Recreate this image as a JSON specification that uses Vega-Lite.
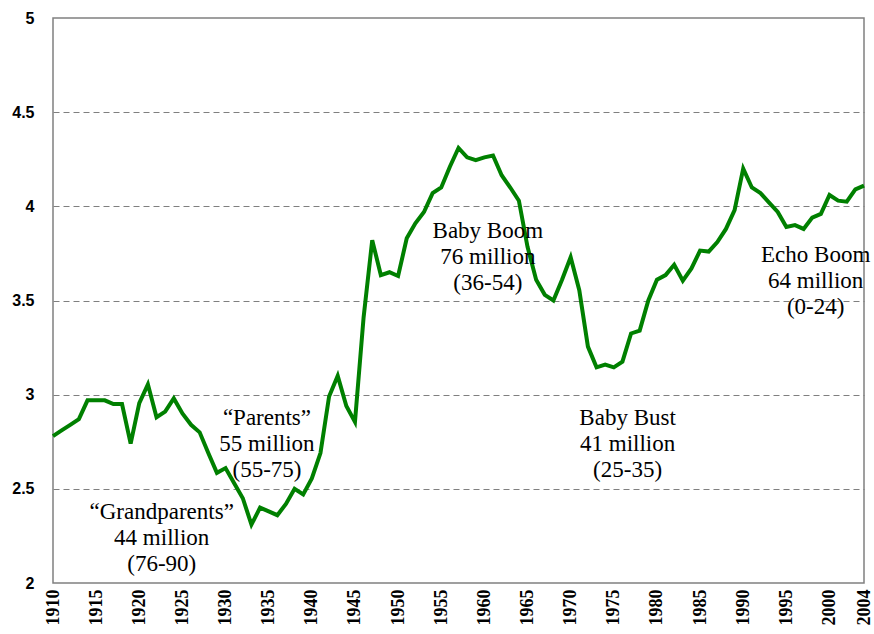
{
  "$schema": "https://vega.github.io/schema/vega-lite/v6.json",
  "width": 811,
  "height": 565,
  "autosize": "none",
  "padding": {"left": 53, "top": 18, "right": 10, "bottom": 51},
  "background": "white",
  "config": {
    "view": {"stroke": "#808080", "strokeWidth": 1.5}
  },
  "datasets": {
    "series": [
      {"year": 1910, "value": 2.78}, {"year": 1911, "value": 2.81}, {"year": 1912, "value": 2.84},
      {"year": 1913, "value": 2.87}, {"year": 1914, "value": 2.97}, {"year": 1915, "value": 2.97},
      {"year": 1916, "value": 2.97}, {"year": 1917, "value": 2.95}, {"year": 1918, "value": 2.95},
      {"year": 1919, "value": 2.74}, {"year": 1920, "value": 2.955}, {"year": 1921, "value": 3.055},
      {"year": 1922, "value": 2.88}, {"year": 1923, "value": 2.91}, {"year": 1924, "value": 2.98},
      {"year": 1925, "value": 2.9}, {"year": 1926, "value": 2.84}, {"year": 1927, "value": 2.8},
      {"year": 1928, "value": 2.69}, {"year": 1929, "value": 2.585}, {"year": 1930, "value": 2.61},
      {"year": 1931, "value": 2.53}, {"year": 1932, "value": 2.45}, {"year": 1933, "value": 2.31},
      {"year": 1934, "value": 2.4}, {"year": 1935, "value": 2.38}, {"year": 1936, "value": 2.36},
      {"year": 1937, "value": 2.42}, {"year": 1938, "value": 2.5}, {"year": 1939, "value": 2.47},
      {"year": 1940, "value": 2.555}, {"year": 1941, "value": 2.69}, {"year": 1942, "value": 2.99},
      {"year": 1943, "value": 3.1}, {"year": 1944, "value": 2.94}, {"year": 1945, "value": 2.855},
      {"year": 1946, "value": 3.41}, {"year": 1947, "value": 3.82}, {"year": 1948, "value": 3.635},
      {"year": 1949, "value": 3.65}, {"year": 1950, "value": 3.63}, {"year": 1951, "value": 3.83},
      {"year": 1952, "value": 3.91}, {"year": 1953, "value": 3.97}, {"year": 1954, "value": 4.07},
      {"year": 1955, "value": 4.1}, {"year": 1956, "value": 4.21}, {"year": 1957, "value": 4.31},
      {"year": 1958, "value": 4.26}, {"year": 1959, "value": 4.245}, {"year": 1960, "value": 4.26},
      {"year": 1961, "value": 4.27}, {"year": 1962, "value": 4.165}, {"year": 1963, "value": 4.1},
      {"year": 1964, "value": 4.03}, {"year": 1965, "value": 3.785}, {"year": 1966, "value": 3.61},
      {"year": 1967, "value": 3.53}, {"year": 1968, "value": 3.5}, {"year": 1969, "value": 3.61},
      {"year": 1970, "value": 3.73}, {"year": 1971, "value": 3.555}, {"year": 1972, "value": 3.255},
      {"year": 1973, "value": 3.145}, {"year": 1974, "value": 3.16}, {"year": 1975, "value": 3.145},
      {"year": 1976, "value": 3.175}, {"year": 1977, "value": 3.325}, {"year": 1978, "value": 3.34},
      {"year": 1979, "value": 3.5}, {"year": 1980, "value": 3.61}, {"year": 1981, "value": 3.635},
      {"year": 1982, "value": 3.69}, {"year": 1983, "value": 3.605}, {"year": 1984, "value": 3.67},
      {"year": 1985, "value": 3.765}, {"year": 1986, "value": 3.76}, {"year": 1987, "value": 3.81},
      {"year": 1988, "value": 3.88}, {"year": 1989, "value": 3.98}, {"year": 1990, "value": 4.2},
      {"year": 1991, "value": 4.1}, {"year": 1992, "value": 4.07}, {"year": 1993, "value": 4.02},
      {"year": 1994, "value": 3.97}, {"year": 1995, "value": 3.89}, {"year": 1996, "value": 3.9},
      {"year": 1997, "value": 3.88}, {"year": 1998, "value": 3.94}, {"year": 1999, "value": 3.96},
      {"year": 2000, "value": 4.06}, {"year": 2001, "value": 4.03}, {"year": 2002, "value": 4.025},
      {"year": 2003, "value": 4.09}, {"year": 2004, "value": 4.11}
    ],
    "notes": [
      {"year": 1960.4, "value": 3.869, "label": "Baby Boom\n76 million\n(36-54)"},
      {"year": 1998.4, "value": 3.741, "label": "Echo Boom\n64 million\n(0-24)"},
      {"year": 1976.6, "value": 2.876, "label": "Baby Bust\n41 million\n(25-35)"},
      {"year": 1934.8, "value": 2.876, "label": "“Parents”\n55 million\n(55-75)"},
      {"year": 1922.6, "value": 2.376, "label": "“Grandparents”\n44 million\n(76-90)"}
    ]
  },
  "encoding": {
    "x": {
      "field": "year",
      "type": "quantitative",
      "scale": {"domain": [1910, 2004], "nice": false, "zero": false},
      "axis": {
        "title": null,
        "values": [1910, 1915, 1920, 1925, 1930, 1935, 1940, 1945, 1950, 1955, 1960, 1965, 1970, 1975, 1980, 1985, 1990, 1995, 2000, 2004],
        "format": "d",
        "labelAngle": -90,
        "labelFont": "Liberation Serif",
        "labelFontWeight": "bold",
        "labelFontSize": 18,
        "labelColor": "black",
        "labelPadding": 6,
        "ticks": false,
        "domain": false,
        "grid": false,
        "labelOverlap": false,
        "labelBound": false,
        "labelFlush": false
      }
    },
    "y": {
      "field": "value",
      "type": "quantitative",
      "scale": {"domain": [2, 5], "nice": false, "zero": false},
      "axis": {
        "title": null,
        "values": [2, 2.5, 3, 3.5, 4, 4.5, 5],
        "format": "~g",
        "labelFont": "Liberation Sans",
        "labelFontWeight": "bold",
        "labelFontSize": 16,
        "labelColor": "black",
        "labelPadding": 19,
        "ticks": false,
        "domain": false,
        "grid": true,
        "gridColor": "#7f7f7f",
        "gridDash": [6, 4],
        "gridWidth": 1,
        "gridOpacity": {"condition": {"test": "datum.value == 2 || datum.value == 5", "value": 0}, "value": 1},
        "labelOverlap": false,
        "labelFlush": false
      }
    }
  },
  "layer": [
    {
      "data": {"name": "series"},
      "mark": {"type": "line", "color": "#008000", "strokeWidth": 4, "strokeJoin": "miter"}
    },
    {
      "data": {"name": "notes"},
      "mark": {
        "type": "text",
        "font": "Liberation Serif",
        "fontSize": 23,
        "lineBreak": "\n",
        "lineHeight": 26,
        "align": "center",
        "baseline": "middle",
        "color": "black"
      },
      "encoding": {"text": {"field": "label"}}
    }
  ]
}
